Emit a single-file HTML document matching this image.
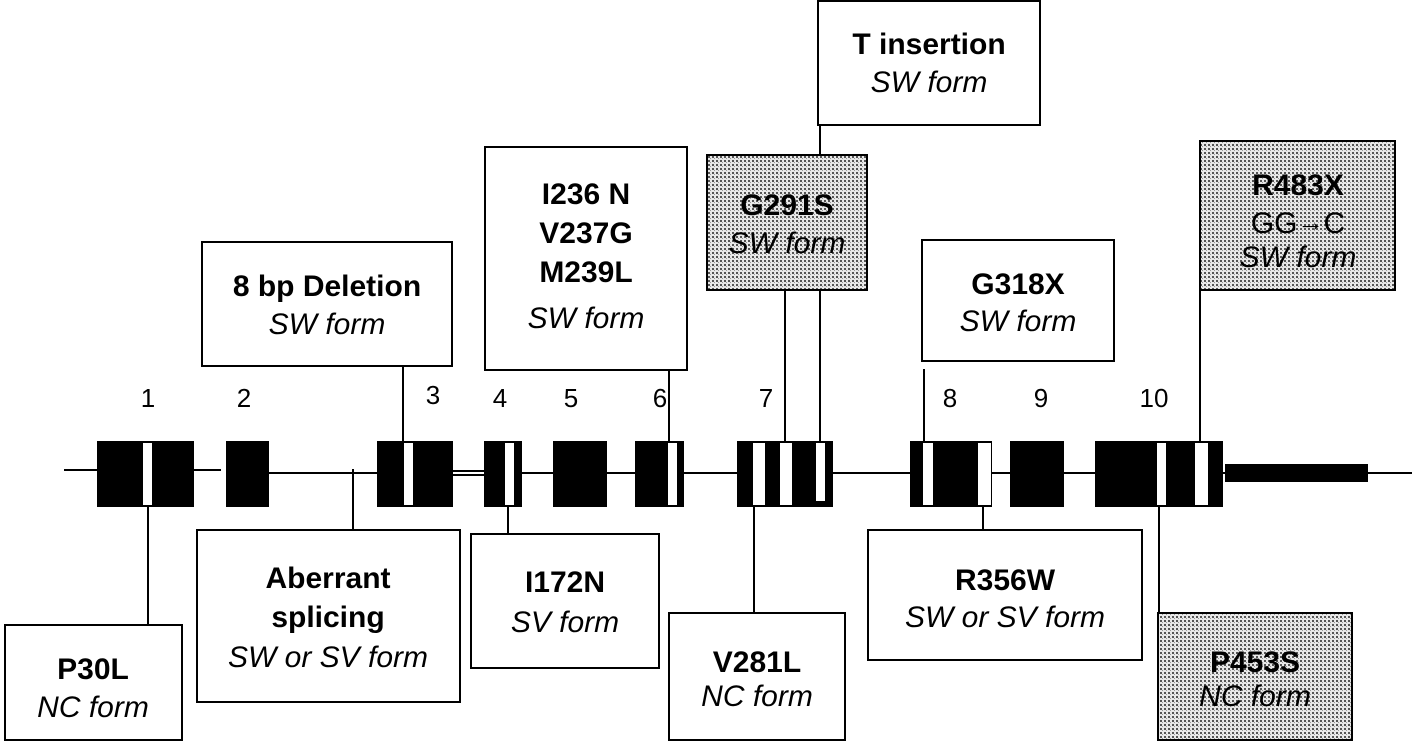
<!DOCTYPE html>
<html><head><meta charset="utf-8"><style>
html,body{margin:0;padding:0;background:#fff;}
svg{display:block;}
text{font-family:"Liberation Sans Narrow","Liberation Sans",sans-serif;font-size:30px;fill:#000;text-anchor:middle;}
.b{font-weight:bold;}
.i{font-style:italic;}
.n{font-size:26px;}
</style></head><body>
<svg width="1412" height="750" viewBox="0 0 1412 750" xmlns="http://www.w3.org/2000/svg">
<defs>
<pattern id="dots" width="4" height="4" patternUnits="userSpaceOnUse">
<rect width="4" height="4" fill="#e8e8e8"/>
<rect x="0" y="0" width="2" height="2" fill="#555"/>
<rect x="2" y="2" width="1" height="1" fill="#999"/>
</pattern>
</defs>
<g stroke="#000" stroke-width="2" fill="none">
<line x1="64" y1="470" x2="97" y2="470"/>
<line x1="194" y1="470" x2="221" y2="470"/>
<line x1="269" y1="473" x2="377" y2="473"/>
<line x1="453" y1="471" x2="484" y2="471"/>
<line x1="453" y1="475" x2="484" y2="475"/>
<line x1="522" y1="473" x2="1368" y2="473"/>
<line x1="1368" y1="473" x2="1412" y2="473"/>
<line x1="148" y1="507" x2="148" y2="625"/>
<line x1="353" y1="469" x2="353" y2="530"/>
<line x1="508" y1="507" x2="508" y2="534"/>
<line x1="754" y1="507" x2="754" y2="613"/>
<line x1="983" y1="507" x2="983" y2="530"/>
<line x1="1159" y1="507" x2="1159" y2="613"/>
<line x1="403" y1="360" x2="403" y2="442"/>
<line x1="669" y1="370" x2="669" y2="442"/>
<line x1="820" y1="125" x2="820" y2="155"/>
<line x1="820" y1="290" x2="820" y2="442"/>
<line x1="785" y1="290" x2="785" y2="442"/>
<line x1="924" y1="369" x2="924" y2="442"/>
<line x1="1200" y1="290" x2="1200" y2="442"/>
</g>
<g fill="#000">
<rect x="97" y="441" width="97" height="66"/>
<rect x="226" y="441" width="43" height="66"/>
<rect x="377" y="441" width="76" height="66"/>
<rect x="484" y="441" width="38" height="66"/>
<rect x="553" y="441" width="54" height="66"/>
<rect x="635" y="441" width="49" height="66"/>
<rect x="737" y="441" width="96" height="66"/>
<rect x="910" y="441" width="82" height="66"/>
<rect x="1010" y="441" width="54" height="66"/>
<rect x="1095" y="441" width="128" height="66"/>
<rect x="1225" y="464" width="143" height="18"/>
</g>
<g fill="#fff">
<rect x="143" y="443" width="9" height="62"/>
<rect x="404" y="443" width="9" height="62"/>
<rect x="505" y="443" width="9" height="62"/>
<rect x="668" y="443" width="9" height="62"/>
<rect x="753" y="443" width="12" height="62"/>
<rect x="780" y="443" width="12" height="62"/>
<rect x="816" y="443" width="9" height="58"/>
<rect x="923" y="443" width="10" height="62"/>
<rect x="978" y="443" width="13" height="62"/>
<rect x="1157" y="443" width="9" height="62"/>
<rect x="1195" y="443" width="13" height="62"/>
</g>
<text class="n" x="148" y="407">1</text>
<text class="n" x="244" y="407">2</text>
<text class="n" x="433" y="404">3</text>
<text class="n" x="500" y="407">4</text>
<text class="n" x="571" y="407">5</text>
<text class="n" x="660" y="407">6</text>
<text class="n" x="766" y="407">7</text>
<text class="n" x="950" y="407">8</text>
<text class="n" x="1041" y="407">9</text>
<text class="n" x="1154" y="407">10</text>
<g stroke="#000" stroke-width="2">
<rect x="818" y="1" width="222" height="124" fill="#fff"/>
<rect x="707" y="155" width="160" height="135" fill="url(#dots)"/>
<rect x="1200" y="141" width="195" height="149" fill="url(#dots)"/>
<rect x="202" y="242" width="250" height="124" fill="#fff"/>
<rect x="485" y="147" width="202" height="223" fill="#fff"/>
<rect x="922" y="240" width="192" height="121" fill="#fff"/>
<rect x="5" y="625" width="177" height="115" fill="#fff"/>
<rect x="197" y="530" width="263" height="172" fill="#fff"/>
<rect x="471" y="534" width="188" height="134" fill="#fff"/>
<rect x="669" y="613" width="176" height="127" fill="#fff"/>
<rect x="868" y="530" width="274" height="130" fill="#fff"/>
<rect x="1158" y="613" width="194" height="127" fill="url(#dots)"/>
</g>
<text class="b" x="929" y="54">T insertion</text>
<text class="i" x="929" y="92">SW form</text>
<text class="b" x="787" y="215">G291S</text>
<text class="i" x="787" y="253">SW form</text>
<text class="b" x="1298" y="195">R483X</text>
<text x="1298" y="233">GG<tspan font-size="26" dy="-2">→</tspan><tspan dy="2">C</tspan></text>
<text class="i" x="1298" y="267">SW form</text>
<text class="b" x="327" y="296">8 bp Deletion</text>
<text class="i" x="327" y="334">SW form</text>
<text class="b" x="586" y="204">I236 N</text>
<text class="b" x="586" y="243">V237G</text>
<text class="b" x="586" y="282">M239L</text>
<text class="i" x="586" y="328">SW form</text>
<text class="b" x="1018" y="294">G318X</text>
<text class="i" x="1018" y="331">SW form</text>
<text class="b" x="93" y="679">P30L</text>
<text class="i" x="93" y="717">NC form</text>
<text class="b" x="328" y="588">Aberrant</text>
<text class="b" x="328" y="627">splicing</text>
<text class="i" x="328" y="667">SW or SV form</text>
<text class="b" x="565" y="592">I172N</text>
<text class="i" x="565" y="632">SV form</text>
<text class="b" x="757" y="672">V281L</text>
<text class="i" x="757" y="706">NC form</text>
<text class="b" x="1005" y="590">R356W</text>
<text class="i" x="1005" y="627">SW or SV form</text>
<text class="b" x="1255" y="672">P453S</text>
<text class="i" x="1255" y="706">NC form</text>
</svg>
</body></html>
